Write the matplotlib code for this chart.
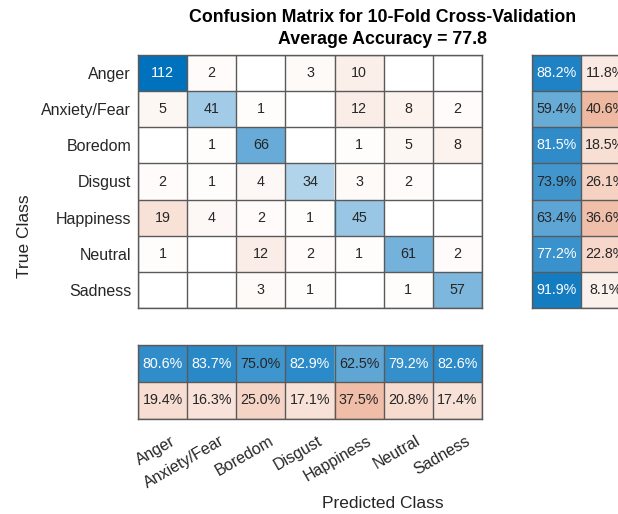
import numpy as np
import matplotlib
matplotlib.use("Agg")
import matplotlib.pyplot as plt
from matplotlib.transforms import ScaledTranslation

plt.rcParams['font.family'] = ['Liberation Sans', 'DejaVu Sans']

classes = ["Anger", "Anxiety/Fear", "Boredom", "Disgust", "Happiness", "Neutral", "Sadness"]

# rows = true class, columns = predicted class
counts = np.array([
    [112, 2, 0, 3, 10, 0, 0],
    [5, 41, 1, 0, 12, 8, 2],
    [0, 1, 66, 0, 1, 5, 8],
    [2, 1, 4, 34, 3, 2, 0],
    [19, 4, 2, 1, 45, 0, 0],
    [1, 0, 12, 2, 1, 61, 2],
    [0, 0, 3, 1, 0, 1, 57],
])

title_lines = ["Confusion Matrix for 10-Fold Cross-Validation", "Average Accuracy = 77.8"]

DIAG = np.array([0.0, 0.447, 0.741])
OFF = np.array([0.85, 0.325, 0.098])
EDGE = "#5a5a5a"
TXT = "#262626"

W, H = 618, 514
fig = plt.figure(figsize=(W / 100, H / 100), dpi=100)


def px_axes(x0, y0, x1, y1):
    return fig.add_axes([x0 / W, 1 - y1 / H, (x1 - x0) / W, (y1 - y0) / H])


def blend(base, f):
    return 1 - f * (1 - base)


def draw_grid(ax, frac, is_diag, labels):
    nr, nc = frac.shape
    rgb = np.ones((nr, nc, 3))
    for i in range(nr):
        for j in range(nc):
            base = DIAG if is_diag[i, j] else OFF
            rgb[i, j] = blend(base, frac[i, j])
            if labels[i][j]:
                col = "white" if frac[i, j] > 0.76 else TXT
                ax.text(j, i, labels[i][j], ha="center", va="center",
                        fontsize=10.3, color=col)
    ax.imshow(rgb, aspect="auto", interpolation="nearest",
              extent=(-0.5, nc - 0.5, nr - 0.5, -0.5))
    for k in range(nc + 1):
        ax.axvline(k - 0.5, color=EDGE, lw=1.0)
    for k in range(nr + 1):
        ax.axhline(k - 0.5, color=EDGE, lw=1.0)
    ax.set_xlim(-0.5, nc - 0.5)
    ax.set_ylim(nr - 0.5, -0.5)
    for s in ax.spines.values():
        s.set_edgecolor(EDGE)
        s.set_linewidth(1.0)
    ax.tick_params(length=0)
    ax.set_xticks([])
    ax.set_yticks([])


n = len(classes)
eye = np.eye(n, dtype=bool)

# main confusion matrix
ax = px_axes(138, 55, 482, 308)
frac = counts / counts.max()
labels = [[str(v) if v else "" for v in row] for row in counts]
draw_grid(ax, frac, eye, labels)
ax.set_yticks(range(n))
ax.set_yticklabels(classes, fontsize=11.5, color=TXT)
ax.tick_params(axis="y", pad=5)

# row summary (per true class)
row_tot = counts.sum(axis=1)
row_ok = np.diag(counts) / row_tot
row_frac = np.column_stack([row_ok, 1 - row_ok])
row_lab = [[f"{100 * a:.1f}%", f"{100 * b:.1f}%"] for a, b in row_frac]
row_diag = np.zeros((n, 2), dtype=bool)
row_diag[:, 0] = True
axr = px_axes(532, 55, 630, 308)
draw_grid(axr, row_frac, row_diag, row_lab)

# column summary (per predicted class)
col_tot = counts.sum(axis=0)
col_ok = np.diag(counts) / col_tot
col_frac = np.vstack([col_ok, 1 - col_ok])
col_lab = [[f"{100 * v:.1f}%" for v in r] for r in col_frac]
col_diag = np.zeros((2, n), dtype=bool)
col_diag[0, :] = True
axc = px_axes(138, 345, 482, 419)
draw_grid(axc, col_frac, col_diag, col_lab)
axc.set_xticks(range(n))
axc.set_xticklabels(classes, fontsize=11.5, color=TXT, rotation=30,
                    ha="right", rotation_mode="anchor")
axc.tick_params(axis="x", pad=6)
shift = ScaledTranslation(0.075, -0.06, fig.dpi_scale_trans)
for lab in axc.get_xticklabels():
    lab.set_transform(lab.get_transform() + shift)

fig.text(383 / W, 1 - 18 / H, title_lines[0], ha="center", va="center",
         fontsize=12.8, fontweight="bold", color="black")
fig.text(383 / W, 1 - 40 / H, title_lines[1], ha="center", va="center",
         fontsize=12.8, fontweight="bold", color="black")
fig.text(383 / W, 1 - 503 / H, "Predicted Class", ha="center", va="center",
         fontsize=12.5, color=TXT)
fig.text(25 / W, 1 - 236 / H, "True Class", ha="center", va="center",
         fontsize=12.5, color=TXT, rotation=90)

fig.savefig("out.png", dpi=100)
